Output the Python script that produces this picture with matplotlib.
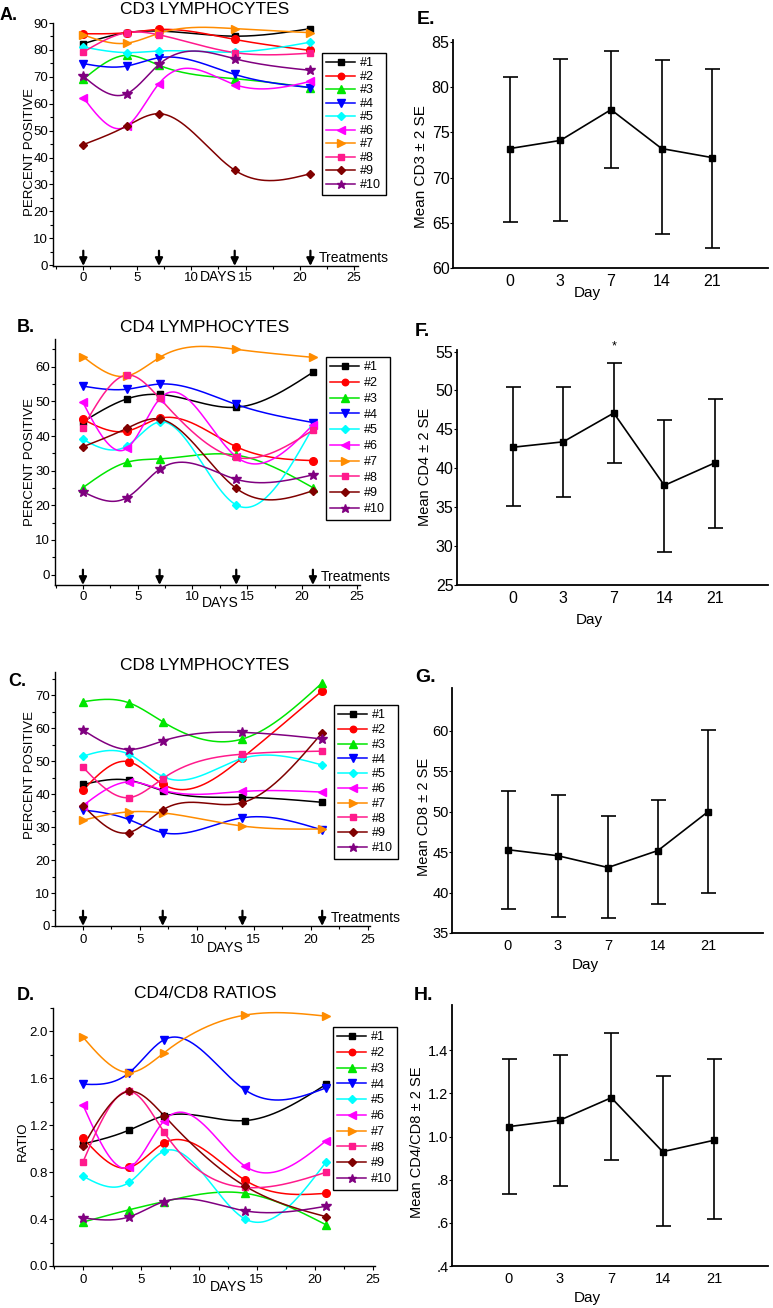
import numpy as np
import matplotlib
matplotlib.use('Agg')
import matplotlib.pyplot as plt
from matplotlib.lines import Line2D
from matplotlib.ticker import MultipleLocator

plt.rcParams['font.family'] = ['Liberation Sans', 'DejaVu Sans']

W, H = 773, 1308

# ---- data ----
days = [0, 4, 7, 14, 21]
treat_days = [0, 7, 14, 21]
patients = ['#1', '#2', '#3', '#4', '#5', '#6', '#7', '#8', '#9', '#10']

cd3 = [
    [82.3, 86.4, 87.0, 85.1, 87.9],
    [86.0, 86.4, 87.6, 83.9, 79.8],
    [69.1, 78.0, 74.3, 69.3, 66.0],
    [74.9, 74.0, 77.1, 70.9, 66.0],
    [81.1, 79.0, 79.6, 79.2, 82.9],
    [62.3, 51.6, 67.5, 67.1, 68.3],
    [85.6, 82.5, 86.2, 87.9, 86.4],
    [79.2, 86.4, 85.6, 79.0, 78.8],
    [44.8, 51.7, 56.3, 35.3, 34.0],
    [70.2, 63.7, 74.6, 76.7, 72.4],
]
cd4 = [
    [44.1, 50.7, 52.0, 48.3, 58.4],
    [44.8, 41.4, 45.1, 36.9, 32.9],
    [25.1, 32.4, 33.4, 34.5, 25.1],
    [54.4, 53.5, 55.0, 49.1, 43.9],
    [39.0, 37.1, 44.1, 20.1, 42.5],
    [49.7, 36.4, 50.7, 34.0, 43.2],
    [62.9, 57.3, 62.7, 65.0, 62.7],
    [42.4, 57.6, 50.9, 33.8, 41.7],
    [36.9, 42.2, 44.9, 24.9, 24.2],
    [23.9, 22.2, 30.4, 27.5, 28.8],
]
cd8 = [
    [42.9, 44.2, 41.0, 39.0, 37.5],
    [41.2, 49.8, 43.0, 51.0, 71.3],
    [68.0, 67.7, 61.9, 56.7, 73.7],
    [35.2, 32.3, 28.3, 32.8, 29.1],
    [51.5, 52.1, 45.3, 50.8, 48.8],
    [36.5, 43.7, 41.2, 40.8, 40.6],
    [32.1, 34.6, 34.3, 30.3, 29.4],
    [48.1, 38.9, 44.7, 52.1, 53.0],
    [36.5, 28.3, 35.2, 37.4, 58.6],
    [59.4, 53.5, 56.1, 58.7, 56.7],
]
ratio = [
    [1.04, 1.16, 1.28, 1.24, 1.55],
    [1.09, 0.84, 1.05, 0.73, 0.62],
    [0.375, 0.48, 0.55, 0.62, 0.35],
    [1.55, 1.65, 1.93, 1.50, 1.52],
    [0.765, 0.715, 0.98, 0.40, 0.89],
    [1.37, 0.84, 1.24, 0.85, 1.07],
    [1.95, 1.65, 1.82, 2.14, 2.13],
    [0.89, 1.49, 1.14, 0.67, 0.80],
    [1.02, 1.49, 1.28, 0.68, 0.42],
    [0.41, 0.42, 0.55, 0.47, 0.51],
]

day_labels = ['0', '3', '7', '14', '21']
cd3_mean = [73.2, 74.1, 77.5, 73.2, 72.2]
cd3_lo = [65.1, 65.2, 71.1, 63.8, 62.2]
cd3_hi = [81.1, 83.1, 84.0, 83.0, 82.0]
cd4_mean = [42.7, 43.4, 47.1, 37.8, 40.7]
cd4_lo = [35.1, 36.3, 40.7, 29.3, 32.3]
cd4_hi = [50.5, 50.5, 53.5, 46.2, 48.9]
cd8_mean = [45.3, 44.55, 43.1, 45.2, 50.0]
cd8_lo = [37.95, 37.0, 36.8, 38.6, 40.0]
cd8_hi = [52.6, 52.1, 49.5, 51.5, 60.1]
rat_mean = [1.046, 1.076, 1.18, 0.93, 0.983]
rat_lo = [0.734, 0.77, 0.89, 0.585, 0.617]
rat_hi = [1.358, 1.38, 1.48, 1.28, 1.358]

colors = ['#000000', '#ff0000', '#00e600', '#0000ff', '#00ffff',
          '#ff00ff', '#ff8c00', '#ff1a8c', '#800000', '#800080']
markers = ['s', 'o', '^', 'v', 'D', '<', '>', 's', 'D', '*']
msizes = [5, 5.5, 6, 6, 4.5, 6, 6, 5, 4.5, 7.5]


def spline(x, y, n=200):
    # natural cubic spline just for drawing the smooth curve
    x = np.asarray(x, float)
    y = np.asarray(y, float)
    k = len(x)
    h = np.diff(x)
    A = np.zeros((k, k))
    r = np.zeros(k)
    A[0, 0] = 1
    A[-1, -1] = 1
    for i in range(1, k - 1):
        A[i, i - 1] = h[i - 1]
        A[i, i] = 2 * (h[i - 1] + h[i])
        A[i, i + 1] = h[i]
        r[i] = 6 * ((y[i + 1] - y[i]) / h[i] - (y[i] - y[i - 1]) / h[i - 1])
    M = np.linalg.solve(A, r)
    xs = np.linspace(x[0], x[-1], n)
    j = np.clip(np.searchsorted(x, xs) - 1, 0, k - 2)
    x0, x1, hh = x[j], x[j + 1], h[j]
    ys = (M[j] * (x1 - xs) ** 3 / (6 * hh) + M[j + 1] * (xs - x0) ** 3 / (6 * hh)
          + (y[j] / hh - M[j] * hh / 6) * (x1 - xs)
          + (y[j + 1] / hh - M[j + 1] * hh / 6) * (xs - x0))
    return xs, ys


def add_ax(l, t, r, b):
    return fig.add_axes([l / W, 1 - b / H, (r - l) / W, (b - t) / H])


fig = plt.figure(figsize=(W / 100, H / 100), dpi=100)

# ---- left panels ----
left = [
    # data, box(px), xlim, ylim, ymajor, yminor, yfmt, title, title y, letter, letter xy,
    # ylabel, ylabel xy, legend xy, spacing, arrows, days off, tickpad
    (cd3, (53, 23, 358, 266), (-2.8, 25.4), (-0.3, 90), 10, 5, '%d', 'CD3 LYMPHOCYTES', 9, 'A.', (0, 15),
     'PERCENT POSITIVE', (30, 152), (322, 53), 0.12, True, 8, 1),
    (cd4, (55, 339, 360, 585), (-2.55, 25.3), (-3, 68), 10, 5, '%d', 'CD4 LYMPHOCYTES', 327, 'B.', (17, 328),
     'PERCENT POSITIVE', (30, 462), (326, 357), 0.3, True, 13, 1),
    (cd8, (55, 672, 370, 926), (-2.46, 25.2), (0, 77), 10, 5, '%d', 'CD8 LYMPHOCYTES', 665, 'C.', (8, 682),
     'PERCENT POSITIVE', (30, 775), (334, 705), 0.22, True, 16, 3),
    (ratio, (53, 1008, 375, 1266), (-2.6, 25.2), (0, 2.2), 0.4, 0.2, '%.1f', 'CD4/CD8 RATIOS', 993, 'D.', (17, 995),
     'RATIO', (23, 1141), (333, 1027), 0.3, False, 15, 3),
]

for (data, box, xlim, ylim, ymaj, ymin, yfmt, title, ty, letter, lxy, ylab, yxy,
     legxy, lspace, arrows, doff, tpad) in left:
    ax = add_ax(*box)
    for i, vals in enumerate(data):
        xs, ys = spline(days, vals)
        ax.plot(xs, ys, color=colors[i], lw=1.1, clip_on=False)
        ax.plot(days, vals, linestyle='none', marker=markers[i], ms=msizes[i],
                color=colors[i], mec=colors[i], clip_on=False, zorder=3)
    ax.set_xlim(*xlim)
    ax.set_ylim(*ylim)
    ax.xaxis.set_major_locator(MultipleLocator(5))
    ax.xaxis.set_minor_locator(MultipleLocator(2.5))
    ax.yaxis.set_major_locator(MultipleLocator(ymaj))
    ax.yaxis.set_minor_locator(MultipleLocator(ymin))
    ax.yaxis.set_major_formatter(plt.FormatStrFormatter(yfmt))
    ax.tick_params(axis='both', which='major', direction='out', length=3, width=0.8, labelsize=9.5)
    ax.tick_params(axis='both', which='minor', direction='out', length=2, width=0.8)
    ax.tick_params(axis='y', pad=0.5)
    ax.tick_params(axis='x', pad=tpad)
    for s in ['top', 'right']:
        ax.spines[s].set_visible(False)
    for s in ['left', 'bottom']:
        ax.spines[s].set_linewidth(1.0)

    if arrows:
        for d in treat_days:
            ax.annotate('', xy=(d, 0), xycoords=('data', 'axes fraction'),
                        xytext=(0, 11), textcoords='offset points',
                        arrowprops=dict(arrowstyle='-|>,head_width=0.22,head_length=0.45',
                                        color='k', lw=1.6, shrinkA=0, shrinkB=0))
        ax.annotate('Treatments', xy=(21, 0), xycoords=('data', 'axes fraction'),
                    xytext=(6, 6), textcoords='offset points', ha='left', va='center', fontsize=10)
    ax.annotate('DAYS', xy=(12.5, 0), xycoords=('data', 'axes fraction'),
                xytext=(0, -doff), textcoords='offset points', ha='center', va='center', fontsize=10)

    fig.text(205 / W, 1 - ty / H, title, ha='center', va='center', fontsize=12.5)
    fig.text(lxy[0] / W, 1 - lxy[1] / H, letter, ha='left', va='center', fontsize=13, fontweight='bold')
    fig.text(yxy[0] / W, 1 - yxy[1] / H, ylab, ha='center', va='center', rotation=90, fontsize=9.5)

    handles = [Line2D([], [], color=colors[i], marker=markers[i], ms=msizes[i] * 0.85, lw=1.1)
               for i in range(len(patients))]
    leg = ax.legend(handles, patients, loc='upper left',
                    bbox_to_anchor=(legxy[0] / W, 1 - legxy[1] / H), bbox_transform=fig.transFigure,
                    fontsize=9, labelspacing=lspace, handlelength=2.3, handletextpad=0.4,
                    borderpad=0.35, borderaxespad=0, fancybox=False, framealpha=1)
    leg.get_frame().set_edgecolor('black')
    leg.get_frame().set_linewidth(1.0)

# ---- right panels ----
right = [
    (cd3_mean, cd3_lo, cd3_hi, (453, 40, 768, 268), (-1.12, 5.1), (60, 85.2), [60, 65, 70, 75, 80, 85],
     ['60', '65', '70', '75', '80', '85'], 11.5, 'Mean CD3 ± 2 SE', (421, 167), 11, 'E.', (417, 20), 18),
    (cd4_mean, cd4_lo, cd4_hi, (457, 350, 768, 585), (-1.1, 5.05), (25, 55.2), [25, 30, 35, 40, 45, 50, 55],
     ['25', '30', '35', '40', '45', '50', '55'], 11.5, 'Mean CD4 ± 2 SE', (425, 467), 10.5, 'F.', (415, 332), 25),
    (cd8_mean, cd8_lo, cd8_hi, (452, 688, 763, 933), (-1.12, 5.1), (35, 65.3), [35, 40, 45, 50, 55, 60],
     ['35', '40', '45', '50', '55', '60'], 10.5, 'Mean CD8 ± 2 SE', (424, 817), 10.5, 'G.', (415, 677), 23),
    (rat_mean, rat_lo, rat_hi, (452, 1005, 768, 1266), (-1.1, 5.05), (0.4, 1.61), [0.4, 0.6, 0.8, 1.0, 1.2, 1.4],
     ['.4', '.6', '.8', '1.0', '1.2', '1.4'], 10.5, 'Mean CD4/CD8 ± 2 SE', (417, 1142), 10.5, 'H.', (414, 996), 23),
]

for (mean, lo, hi, box, xlim, ylim, yt, ytl, fs, ylab, yxy, yfs, letter, lxy, doff) in right:
    ax = add_ax(*box)
    x = np.arange(len(mean))
    m = np.array(mean)
    yerr = [m - np.array(lo), np.array(hi) - m]
    ax.errorbar(x, m, yerr=yerr, color='black', lw=1.2, elinewidth=1.2, capsize=5.4,
                capthick=1.2, marker='s', ms=5, clip_on=False)
    ax.set_xlim(*xlim)
    ax.set_ylim(*ylim)
    ax.set_xticks(x)
    ax.set_xticklabels(day_labels)
    ax.set_yticks(yt)
    ax.set_yticklabels(ytl)
    ax.tick_params(axis='x', length=0, pad=4, labelsize=fs)
    ax.tick_params(axis='y', length=2, width=0.8, pad=0.5, labelsize=fs)
    for s in ['top', 'right']:
        ax.spines[s].set_visible(False)
    for s in ['left', 'bottom']:
        ax.spines[s].set_linewidth(1.3)
    ax.annotate('Day', xy=(0.5 * (xlim[0] + xlim[1]) - 0.45, 0), xycoords=('data', 'axes fraction'),
                xytext=(0, -doff), textcoords='offset points', ha='center', va='center', fontsize=11)
    fig.text(yxy[0] / W, 1 - yxy[1] / H, ylab, ha='center', va='center', rotation=90, fontsize=yfs)
    fig.text(lxy[0] / W, 1 - lxy[1] / H, letter, ha='left', va='center', fontsize=14, fontweight='bold')
    if letter == 'F.':
        ax.annotate('*', xy=(2, 53.5), xytext=(0, 12), textcoords='offset points',
                    ha='center', va='center', fontsize=9)

fig.savefig('out.png', dpi=100)
